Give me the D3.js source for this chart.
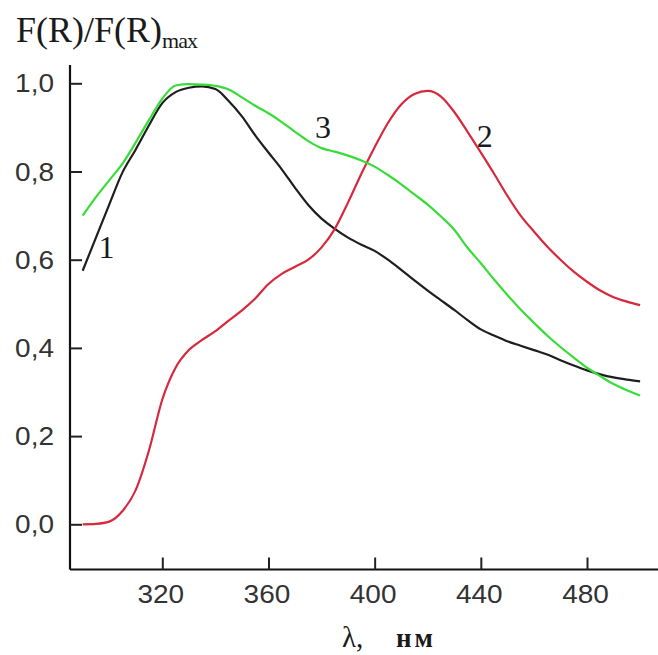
<!DOCTYPE html>
<html>
<head>
<meta charset="utf-8">
<script src="https://cdn.jsdelivr.net/npm/d3@7"></script>
<style>
  body { margin: 0; background: #fff; }
</style>
</head>
<body>
<div id="chart"></div>
<script>
// wavelength, nm
var wavelengths = [290, 295, 300, 305, 310, 315, 320, 325, 330, 335, 340, 345, 350, 355, 360,
  365, 370, 375, 380, 385, 390, 395, 400, 405, 410, 415, 420, 425, 430, 435, 440,
  445, 450, 455, 460, 465, 470, 475, 480, 485, 490, 495, 500];

// curve 1 (black)
var curve1 = [0.575, 0.650, 0.725, 0.798, 0.850, 0.905, 0.955, 0.980, 0.990, 0.993, 0.987, 0.960,
  0.925, 0.882, 0.843, 0.805, 0.763, 0.724, 0.693, 0.670, 0.650, 0.634, 0.620, 0.600, 0.577,
  0.553, 0.530, 0.508, 0.486, 0.463, 0.442, 0.428, 0.415, 0.405, 0.395, 0.385, 0.372, 0.360,
  0.349, 0.340, 0.333, 0.328, 0.324];

// curve 2 (red)
var curve2 = [0.000, 0.001, 0.006, 0.030, 0.078, 0.168, 0.283, 0.355, 0.395, 0.418, 0.438, 0.462,
  0.485, 0.512, 0.545, 0.568, 0.584, 0.600, 0.628, 0.670, 0.730, 0.795, 0.855, 0.910, 0.952,
  0.976, 0.983, 0.970, 0.935, 0.890, 0.843, 0.795, 0.745, 0.700, 0.664, 0.630, 0.600, 0.573,
  0.550, 0.530, 0.515, 0.505, 0.497];

// curve 3 (green)
var curve3 = [0.700, 0.742, 0.780, 0.818, 0.866, 0.917, 0.965, 0.995, 0.998, 0.997, 0.994, 0.986,
  0.968, 0.949, 0.932, 0.912, 0.890, 0.869, 0.853, 0.845, 0.836, 0.825, 0.811, 0.792, 0.771,
  0.748, 0.725, 0.698, 0.668, 0.627, 0.592, 0.555, 0.520, 0.487, 0.457, 0.428, 0.402, 0.378,
  0.355, 0.336, 0.318, 0.304, 0.292];

var xTicks = [320, 360, 400, 440, 480];
var yTicks = [0, 0.2, 0.4, 0.6, 0.8, 1.0];

var series = [
  { name: "1", values: curve1, color: "#1e1e1e", label: [296, 0.603] },
  { name: "2", values: curve2, color: "#d8283c", label: [438.5, 0.856] },
  { name: "3", values: curve3, color: "#38dc38", label: [377.5, 0.876] }
];

var w = 658;
var h = 655;
var svg = d3.select("#chart")
  .append("svg")
  .attr("width", w)
  .attr("height", h);

var x = d3.scaleLinear().domain([320, 480]).range([162.3, 587]);
var y = d3.scaleLinear().domain([0, 1]).range([524.3, 83.3]);

var axisX0 = 70, axisY0 = 569.5;

// axes lines
svg.append("line")
  .attr("x1", axisX0).attr("x2", axisX0)
  .attr("y1", 65).attr("y2", axisY0)
  .attr("stroke", "#111").attr("stroke-width", 2.2);
svg.append("line")
  .attr("x1", axisX0).attr("x2", w)
  .attr("y1", axisY0).attr("y2", axisY0)
  .attr("stroke", "#111").attr("stroke-width", 2.2);

// ticks point inward
var yAxis = d3.axisRight(y).tickValues(yTicks).tickSize(12).tickFormat("");
svg.append("g")
  .attr("transform", "translate(" + axisX0 + ",0)")
  .call(yAxis)
  .call(function(g) { g.select(".domain").remove(); })
  .selectAll("line").attr("stroke", "#222").attr("stroke-width", 2);

var xAxis = d3.axisTop(x).tickValues(xTicks).tickSize(12).tickFormat("");
svg.append("g")
  .attr("transform", "translate(0," + axisY0 + ")")
  .call(xAxis)
  .call(function(g) { g.select(".domain").remove(); })
  .selectAll("line").attr("stroke", "#222").attr("stroke-width", 2);

// tick labels (the original type is a bit wide, so stretch horizontally)
svg.selectAll(".ylab")
  .data(yTicks)
  .enter()
  .append("text")
  .attr("class", "ylab")
  .attr("transform", function(d) { return "translate(54," + (y(d) + 9) + ") scale(1.12,1)"; })
  .attr("text-anchor", "end")
  .attr("font-family", "Liberation Sans, Arial, sans-serif")
  .attr("font-size", "25px")
  .attr("fill", "#333")
  .text(function(d) { return d3.format(".1f")(d).replace(".", ","); });

svg.selectAll(".xlab")
  .data(xTicks)
  .enter()
  .append("text")
  .attr("class", "xlab")
  .attr("transform", function(d) { return "translate(" + (x(d) - 1.5) + ",603) scale(1.12,1)"; })
  .attr("text-anchor", "middle")
  .attr("font-family", "Liberation Sans, Arial, sans-serif")
  .attr("font-size", "25px")
  .attr("fill", "#333")
  .text(function(d) { return d; });

// curves
var line = d3.line()
  .x(function(d, i) { return x(wavelengths[i]); })
  .y(function(d) { return y(d); })
  .curve(d3.curveMonotoneX);

svg.selectAll(".curve")
  .data(series)
  .enter()
  .append("path")
  .attr("class", "curve")
  .attr("fill", "none")
  .attr("stroke", function(d) { return d.color; })
  .attr("stroke-width", 2.2)
  .attr("d", function(d) { return line(d.values); });

// curve numbers
svg.selectAll(".num")
  .data(series)
  .enter()
  .append("text")
  .attr("class", "num")
  .attr("x", function(d) { return x(d.label[0]); })
  .attr("y", function(d) { return y(d.label[1]); })
  .attr("font-family", "Liberation Serif, Times New Roman, serif")
  .attr("font-size", "32px")
  .attr("fill", "#1a1a1a")
  .text(function(d) { return d.name; });

// y title
var title = svg.append("text")
  .attr("x", 16)
  .attr("y", 42)
  .attr("font-family", "Liberation Serif, Times New Roman, serif")
  .attr("font-size", "36px")
  .attr("fill", "#1a1a1a");
title.append("tspan").text("F(R)/F(R)");
title.append("tspan")
  .attr("font-size", "22px")
  .attr("dy", 6)
  .attr("letter-spacing", "-1px")
  .text("max");

// x title
svg.append("text")
  .attr("x", 342)
  .attr("y", 647)
  .attr("font-family", "Liberation Serif, Times New Roman, serif")
  .attr("font-size", "29px")
  .attr("fill", "#1a1a1a")
  .text("λ,");
svg.append("text")
  .attr("x", 396)
  .attr("y", 647)
  .attr("font-family", "Liberation Serif, Times New Roman, serif")
  .attr("font-size", "27px")
  .attr("font-weight", "bold")
  .attr("letter-spacing", "3px")
  .attr("fill", "#1a1a1a")
  .text("нм");
</script>
</body>
</html>
